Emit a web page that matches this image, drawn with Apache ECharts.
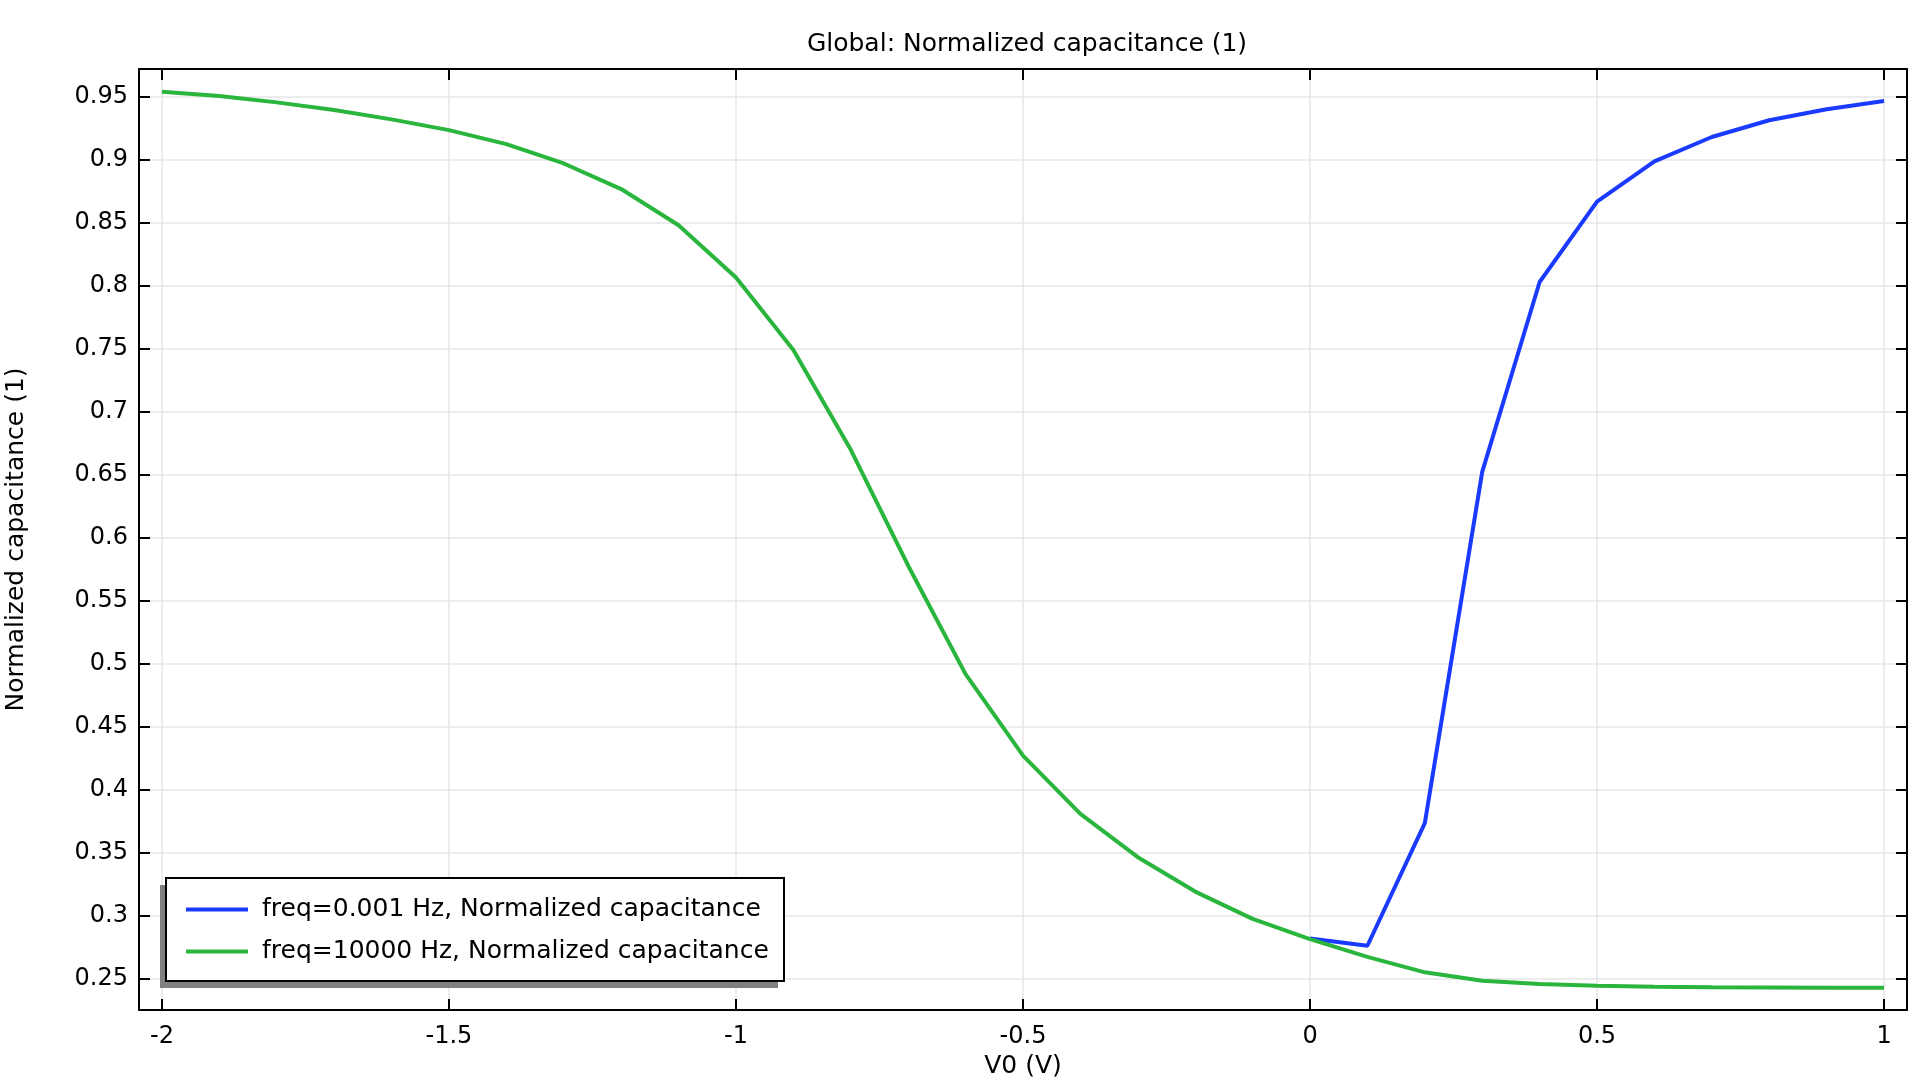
<!DOCTYPE html>
<html>
<head>
<meta charset="utf-8">
<script src="https://cdn.jsdelivr.net/npm/echarts@6/dist/echarts.min.js"></script>
<style>
html,body{margin:0;padding:0;background:#fff;}
#chart{width:1920px;height:1080px;}
</style>
</head>
<body>
<div id="chart"></div>
<script>
// ---- data ----
const titleText = 'Global: Normalized capacitance (1)';
const xAxisName = 'V0 (V)';
const yAxisName = 'Normalized capacitance (1)';
const seriesNames = ['freq=0.001 Hz, Normalized capacitance', 'freq=10000 Hz, Normalized capacitance'];

const voltageLow = [0, 0.1, 0.2, 0.3, 0.4, 0.5, 0.6, 0.7, 0.8, 0.9, 1.0];
const capLow = [0.2818, 0.276, 0.3733, 0.6522, 0.8029, 0.8667, 0.8987, 0.918, 0.9313, 0.940, 0.9466];

const voltageHigh = [-2.0, -1.9, -1.8, -1.7, -1.6, -1.5, -1.4, -1.3, -1.2, -1.1, -1.0,
  -0.9, -0.8, -0.7, -0.6, -0.5, -0.4, -0.3, -0.2, -0.1, 0.0,
  0.1, 0.2, 0.3, 0.4, 0.5, 0.6, 0.7, 0.8, 0.9, 1.0];
const capHigh = [0.954, 0.9505, 0.9455, 0.9394, 0.932, 0.9235, 0.9124, 0.897, 0.8767, 0.848, 0.8065,
  0.749, 0.6697, 0.5777, 0.4916, 0.427, 0.3807, 0.3463, 0.319, 0.2973, 0.2812,
  0.2672, 0.2549, 0.2482, 0.2456, 0.2442, 0.2435, 0.2431, 0.2429, 0.2427, 0.2426];

const xTicks = [-2, -1.5, -1, -0.5, 0, 0.5, 1];
const yTicks = [0.25, 0.3, 0.35, 0.4, 0.45, 0.5, 0.55, 0.6, 0.65, 0.7, 0.75, 0.8, 0.85, 0.9, 0.95];

const xRange = [-2.04, 1.04];
const yRange = [0.225, 0.972];

// ---- chart ----
const FONT = 'DejaVu Sans';
const zip = (xs, ys) => xs.map((x, i) => [x, ys[i]]);
const fmt = v => String(+Number(v).toFixed(3));

const chart = echarts.init(document.getElementById('chart'), null, {renderer: 'canvas'});

const axisLineStyle = {color: '#000', width: 2};
const tickStyle = {color: '#000', width: 2};
const gridLine = {color: '#e6e6e6', width: 1.5};
const BLUE = '#1a3bff';
const GREEN = '#2ab53d';

// legend frame geometry (decoration only)
const LEG = {left: 166, top: 878, width: 618, height: 103};

chart.setOption({
  animation: false,
  backgroundColor: '#fff',
  title: {
    text: titleText,
    left: 1022,
    top: 27,
    textAlign: 'center',
    textStyle: {fontFamily: FONT, fontSize: 25, fontWeight: 'normal', color: '#000', lineHeight: 25}
  },
  grid: {left: 139, right: 13, top: 69, bottom: 70, containLabel: false, outerBoundsMode: 'none'},
  graphic: [{
    type: 'rect', z: 10, silent: true,
    shape: {x: LEG.left - 6, y: LEG.top + 7, width: LEG.width, height: LEG.height},
    style: {fill: '#808080'}
  }, {
    type: 'rect', z: 11, silent: true,
    shape: {x: LEG.left, y: LEG.top, width: LEG.width, height: LEG.height},
    style: {fill: '#fff', stroke: '#000', lineWidth: 2}
  }],
  legend: {
    orient: 'vertical',
    left: LEG.left,
    top: LEG.top,
    z: 20,
    padding: [19, 16, 17, 18],
    itemWidth: 62,
    itemHeight: 25,
    itemGap: 17,
    backgroundColor: 'transparent',
    borderWidth: 0,
    itemStyle: {opacity: 0},
    lineStyle: {width: 4},
    textStyle: {fontFamily: FONT, fontSize: 25, color: '#000', lineHeight: 25, padding: [0, 0, 0, 9]},
    data: seriesNames
  },
  xAxis: [{
    type: 'value',
    position: 'bottom',
    min: xRange[0], max: xRange[1],
    name: xAxisName,
    nameLocation: 'middle',
    nameGap: 33,
    nameTextStyle: {fontFamily: FONT, fontSize: 25, color: '#000'},
    axisLine: {show: true, onZero: false, lineStyle: axisLineStyle},
    axisTick: {show: true, inside: true, length: 11, lineStyle: tickStyle, customValues: xTicks},
    axisLabel: {show: true, margin: 15, fontFamily: FONT, fontSize: 24, color: '#000', customValues: xTicks, formatter: fmt},
    splitLine: {show: true, lineStyle: gridLine}
  }, {
    type: 'value',
    position: 'top',
    min: xRange[0], max: xRange[1],
    axisLine: {show: true, onZero: false, lineStyle: axisLineStyle},
    axisTick: {show: true, inside: true, length: 11, lineStyle: tickStyle, customValues: xTicks},
    axisLabel: {show: false, customValues: xTicks},
    splitLine: {show: false}
  }],
  yAxis: [{
    type: 'value',
    position: 'left',
    min: yRange[0], max: yRange[1],
    name: yAxisName,
    nameLocation: 'middle',
    nameGap: 110,
    nameTextStyle: {fontFamily: FONT, fontSize: 25, color: '#000'},
    axisLine: {show: true, onZero: false, lineStyle: axisLineStyle},
    axisTick: {show: true, inside: true, length: 11, lineStyle: tickStyle, customValues: yTicks},
    axisLabel: {show: true, margin: 11, fontFamily: FONT, fontSize: 24, color: '#000', customValues: yTicks, formatter: fmt},
    splitLine: {show: true, lineStyle: gridLine}
  }, {
    type: 'value',
    position: 'right',
    min: yRange[0], max: yRange[1],
    axisLine: {show: true, onZero: false, lineStyle: axisLineStyle},
    axisTick: {show: true, inside: true, length: 11, lineStyle: tickStyle, customValues: yTicks},
    axisLabel: {show: false, customValues: yTicks},
    splitLine: {show: false}
  }],
  series: [{
    name: seriesNames[0],
    type: 'line',
    xAxisIndex: 0, yAxisIndex: 0,
    data: zip(voltageLow, capLow),
    symbol: 'none',
    lineStyle: {color: BLUE, width: 4},
    itemStyle: {color: BLUE}
  }, {
    name: seriesNames[1],
    type: 'line',
    xAxisIndex: 0, yAxisIndex: 0,
    data: zip(voltageHigh, capHigh),
    symbol: 'none',
    lineStyle: {color: GREEN, width: 4},
    itemStyle: {color: GREEN}
  }]
});
</script>
</body>
</html>
